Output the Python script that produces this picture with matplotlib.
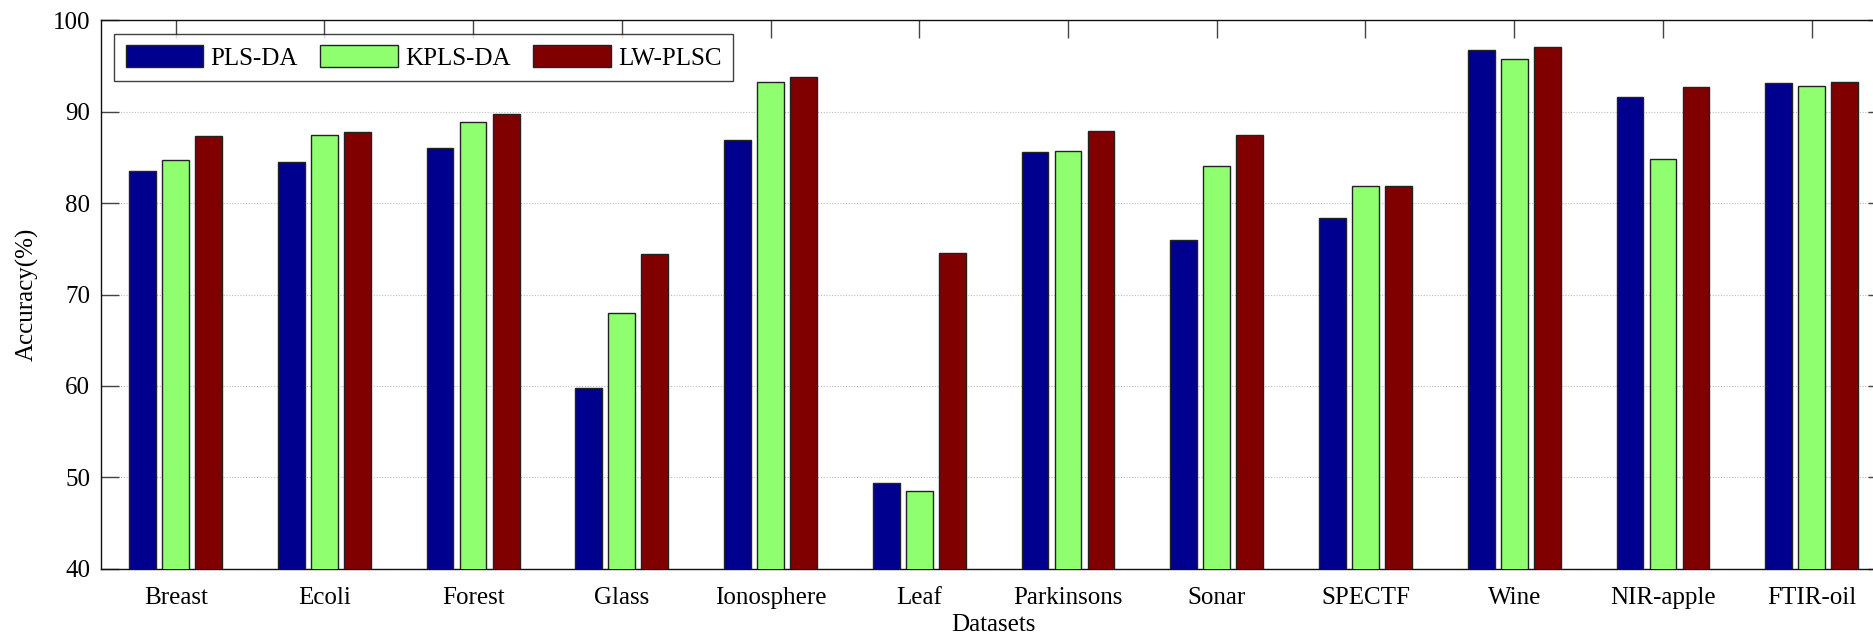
import matplotlib.pyplot as plt
import numpy as np

plt.rcParams['font.family'] = ['Liberation Serif', 'DejaVu Serif']

datasets = ['Breast', 'Ecoli', 'Forest', 'Glass', 'Ionosphere', 'Leaf',
            'Parkinsons', 'Sonar', 'SPECTF', 'Wine', 'NIR-apple', 'FTIR-oil']
pls_da = [83.5, 84.5, 86.0, 59.8, 86.9, 49.4, 85.6, 76.0, 78.4, 96.7, 91.6, 93.1]
kpls_da = [84.7, 87.5, 88.9, 68.0, 93.2, 48.5, 85.7, 84.1, 81.9, 95.8, 84.8, 92.8]
lw_plsc = [87.3, 87.8, 89.7, 74.4, 93.8, 74.5, 87.9, 87.4, 81.9, 97.1, 92.7, 93.3]

series = [('PLS-DA', pls_da, '#00008F'),
          ('KPLS-DA', kpls_da, '#8FFF70'),
          ('LW-PLSC', lw_plsc, '#800000')]

W, H = 1873, 637
fig = plt.figure(figsize=(W / 100, H / 100), dpi=100)
# right spine falls just outside the picture, as in the original
ax = fig.add_axes([101.3 / W, 1 - 568.8 / H, (1886 - 101.3) / W, (568.8 - 20.3) / H])

x = np.arange(1, len(datasets) + 1)
step = 0.222
for k, (name, vals, col) in enumerate(series):
    ax.bar(x + (k - 1) * step, vals, width=0.18, color=col,
           edgecolor='#222222', linewidth=1.0, label=name, zorder=3)

ax.set_xlim(0.5, len(datasets) + 0.5)
ax.set_ylim(40, 100)
ax.set_yticks(np.arange(40, 101, 10))
ax.set_xticks(x)
ax.set_xticklabels(datasets)
ax.yaxis.grid(True, linestyle=(0, (1, 1.5)), color='#bdbdbd', linewidth=0.8, zorder=0)

ax.tick_params(direction='in', length=13, width=1.0, color='#444444',
               top=True, right=True, labelsize=18, pad=8)
ax.tick_params(axis='x', pad=13)
for s in ax.spines.values():
    s.set_linewidth(1.0)
    s.set_color('#111111')

ax.set_xlabel('Datasets', fontsize=18, labelpad=4)
ax.set_ylabel('Accuracy(%)', fontsize=18, labelpad=10)

leg = ax.legend(loc='upper left', bbox_to_anchor=(0.0073, 0.9756), ncol=3,
                fontsize=18, borderaxespad=0, frameon=True, fancybox=False,
                handlelength=3.1, handleheight=1.0, handletextpad=0.3,
                columnspacing=0.9, borderpad=0.45)
leg.get_frame().set_edgecolor('#111111')
leg.get_frame().set_linewidth(1.0)

fig.savefig('out.png', dpi=100)
